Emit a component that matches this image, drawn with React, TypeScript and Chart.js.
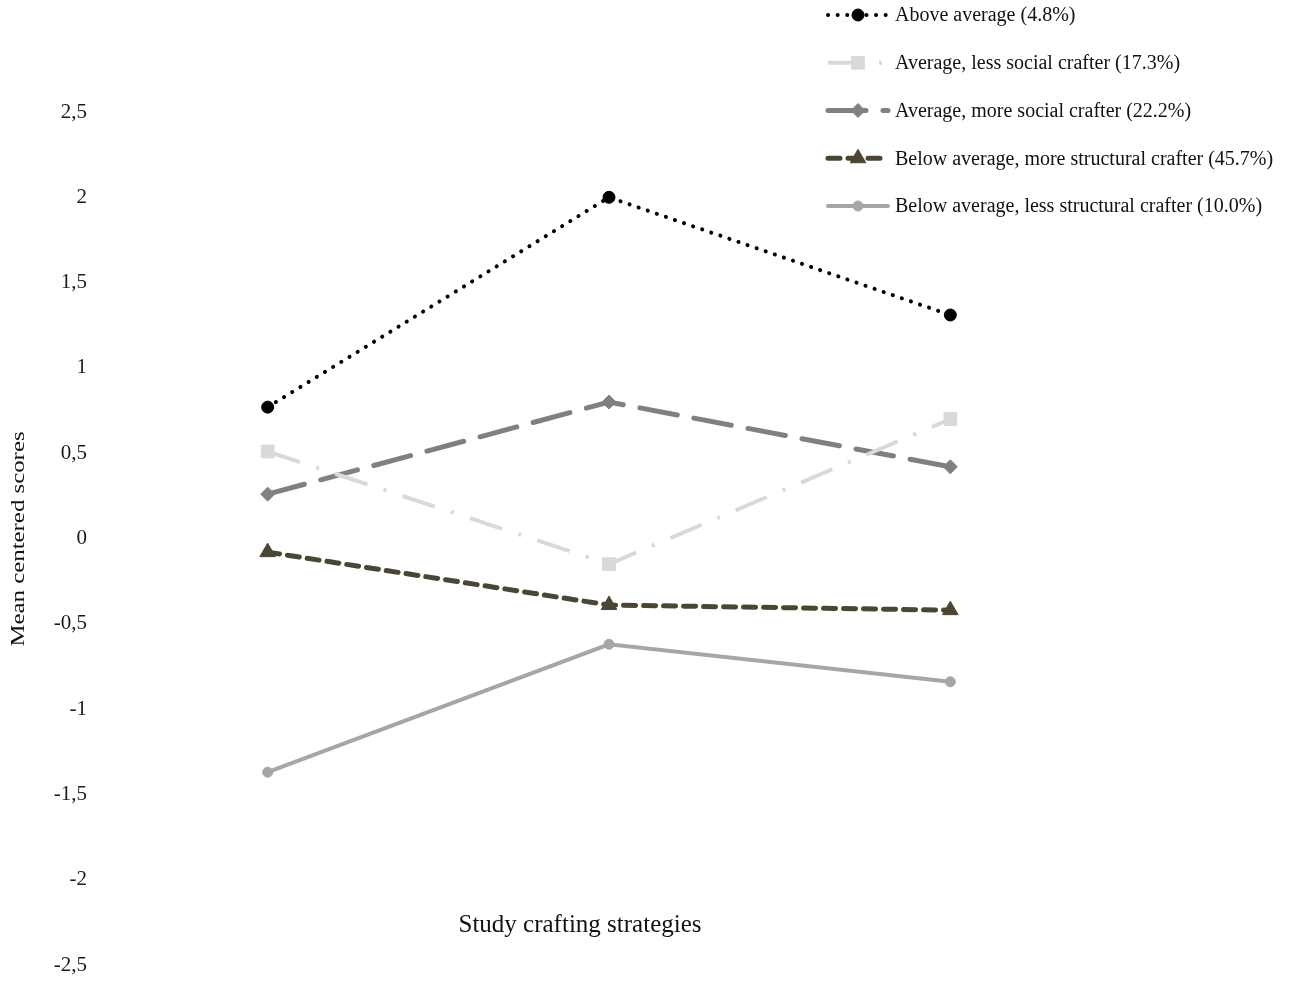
import React, { useEffect, useRef } from 'react';
import { Chart, registerables } from 'chart.js';

Chart.register(...registerables);

const categories = ['Strategy 1', 'Strategy 2', 'Strategy 3'];

const seriesLabels = [
  'Above average (4.8%)',
  'Average, less social crafter (17.3%)',
  'Average, more social crafter (22.2%)',
  'Below average, more structural crafter (45.7%)',
  'Below average, less structural crafter (10.0%)',
];

const aboveAverage = [0.77, 2.0, 1.31];
const averageLessSocial = [0.51, -0.15, 0.7];
const averageMoreSocial = [0.26, 0.8, 0.42];
const belowMoreStructural = [-0.08, -0.39, -0.42];
const belowLessStructural = [-1.37, -0.62, -0.84];

const yMin = -2.5;
const yMax = 2.5;
const yStep = 0.5;

const xTitle = 'Study crafting strategies';
const yTitle = 'Mean centered scores';

const seriesColors = ['#000000', '#d9d9d9', '#808080', '#4a4632', '#a6a6a6'];

function drawMarker(ctx: CanvasRenderingContext2D, style: string, x: number, y: number, r: number, color: string) {
  ctx.save();
  ctx.fillStyle = color;
  ctx.strokeStyle = color;
  ctx.lineWidth = 1;
  ctx.setLineDash([]);
  ctx.beginPath();
  if (style === 'circle') {
    ctx.arc(x, y, r, 0, Math.PI * 2);
  } else if (style === 'rect') {
    const s = r * Math.SQRT1_2;
    ctx.rect(x - s, y - s, 2 * s, 2 * s);
  } else if (style === 'rectRot') {
    ctx.moveTo(x, y - r);
    ctx.lineTo(x + r, y);
    ctx.lineTo(x, y + r);
    ctx.lineTo(x - r, y);
    ctx.closePath();
  } else if (style === 'triangle') {
    let rad = 0;
    ctx.moveTo(x + Math.sin(rad) * r, y - Math.cos(rad) * r);
    rad += (2 * Math.PI) / 3;
    ctx.lineTo(x + Math.sin(rad) * r, y - Math.cos(rad) * r);
    rad += (2 * Math.PI) / 3;
    ctx.lineTo(x + Math.sin(rad) * r, y - Math.cos(rad) * r);
    ctx.closePath();
  }
  ctx.fill();
  ctx.stroke();
  ctx.restore();
}

const decorPlugin = {
  id: 'decor',
  afterDraw(chart: any) {
    const ctx: CanvasRenderingContext2D = chart.ctx;
    ctx.save();
    // x-axis title
    ctx.fillStyle = '#111111';
    ctx.font = '25px "Liberation Serif"';
    ctx.textAlign = 'center';
    ctx.textBaseline = 'middle';
    ctx.fillText(xTitle, 580, 925);

    // y-axis title (rotated, slightly stretched)
    ctx.save();
    ctx.translate(19, 539);
    ctx.rotate(-Math.PI / 2);
    ctx.scale(1.38, 1);
    ctx.font = '18px "Liberation Serif"';
    ctx.textAlign = 'center';
    ctx.textBaseline = 'middle';
    ctx.fillText(yTitle, 0, 0);
    ctx.restore();

    // legend
    const datasets = chart.data.datasets;
    datasets.forEach((ds: any, i: number) => {
      const y = 15 + i * 47.75;
      ctx.save();
      ctx.strokeStyle = ds.borderColor;
      ctx.lineWidth = ds.borderWidth;
      ctx.lineCap = ds.borderCapStyle || 'butt';
      ctx.setLineDash(ds.borderDash || []);
      ctx.beginPath();
      ctx.moveTo(828, y);
      ctx.lineTo(888, y);
      ctx.stroke();
      ctx.restore();
      drawMarker(ctx, ds.pointStyle, 858, y, ds.pointRadius, ds.pointBackgroundColor);
      ctx.fillStyle = '#111111';
      ctx.font = '20px "Liberation Serif"';
      ctx.textAlign = 'left';
      ctx.textBaseline = 'middle';
      ctx.fillText(ds.label, 895, y + 1);
    });
    ctx.restore();
  },
};

export default function App() {
  const canvasRef = useRef<HTMLCanvasElement | null>(null);

  useEffect(() => {
    if (!canvasRef.current) return;
    const mk = (
      i: number,
      data: number[],
      dash: number[],
      width: number,
      cap: CanvasLineCap,
      pointStyle: string,
      radius: number
    ) => ({
      label: seriesLabels[i],
      data,
      borderColor: seriesColors[i],
      backgroundColor: seriesColors[i],
      borderWidth: width,
      borderDash: dash,
      borderCapStyle: cap,
      pointStyle,
      pointRadius: radius,
      pointHoverRadius: radius,
      pointBackgroundColor: seriesColors[i],
      pointBorderColor: seriesColors[i],
      pointBorderWidth: 1,
      tension: 0,
      fill: false,
      clip: false as any,
    });

    const chart = new Chart(canvasRef.current, {
      type: 'line',
      data: {
        labels: categories,
        datasets: [
          mk(0, aboveAverage, [0.1, 9.5], 4, 'round', 'circle', 6),
          mk(1, averageLessSocial, [34, 17, 3, 17], 4, 'butt', 'rect', 9),
          mk(2, averageMoreSocial, [38, 17], 5, 'round', 'rectRot', 7),
          mk(3, belowMoreStructural, [12, 8], 5, 'round', 'triangle', 9),
          mk(4, belowLessStructural, [], 4, 'round', 'circle', 5),
        ] as any,
      },
      options: {
        responsive: false,
        animation: false,
        devicePixelRatio: 1,
        layout: { padding: { top: 112, bottom: 16, left: 0, right: 170 } },
        plugins: {
          legend: { display: false },
          tooltip: { enabled: false },
          title: { display: false },
        },
        scales: {
          x: {
            type: 'category',
            display: false,
            offset: true,
            grid: { display: false },
          },
          y: {
            type: 'linear',
            min: yMin,
            max: yMax,
            grid: { display: false, drawTicks: false },
            border: { display: false },
            afterFit: (scale: any) => {
              scale.width = 97;
              scale.paddingTop = 0;
              scale.paddingBottom = 0;
            },
            ticks: {
              stepSize: yStep,
              padding: 10,
              color: '#1a1a1a',
              font: { family: '"Liberation Serif"', size: 21 },
              callback: (v: any) => {
                const n = Math.round(Number(v) * 10) / 10;
                return (n === 0 ? '0' : String(n)).replace('.', ',');
              },
            },
          },
        },
      },
      plugins: [decorPlugin],
    });
    return () => chart.destroy();
  }, []);

  return (
    <div style={{ position: 'absolute', left: 0, top: 0, width: 1291, height: 981, background: '#ffffff' }}>
      <canvas ref={canvasRef} width={1291} height={981} style={{ display: 'block', width: 1291, height: 981 }} />
    </div>
  );
}
